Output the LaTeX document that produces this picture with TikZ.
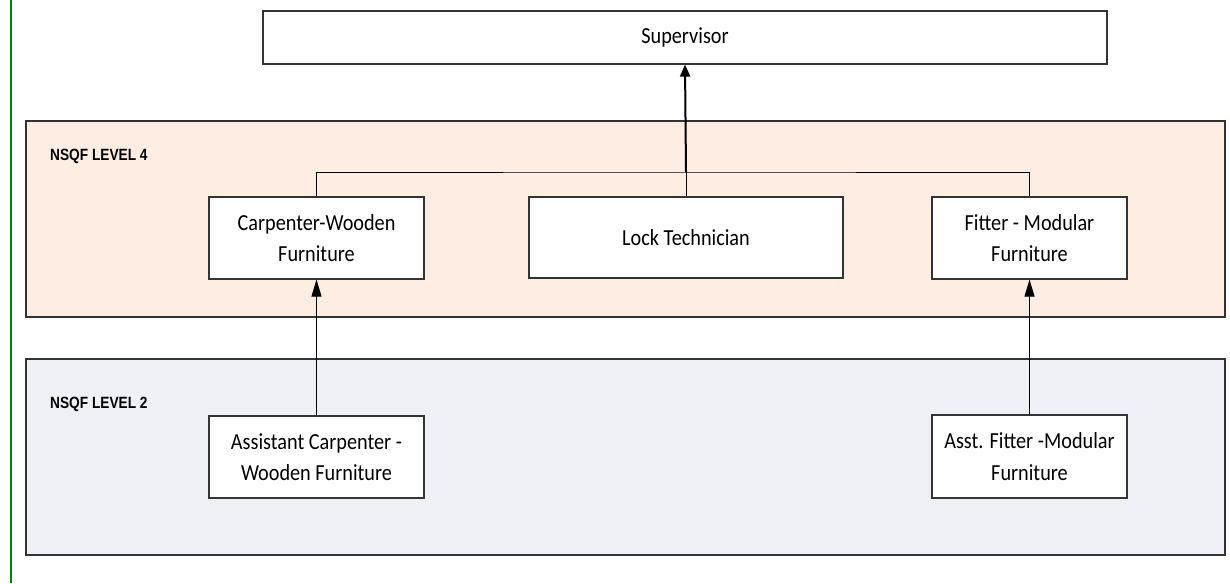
\documentclass[tikz,border=0pt]{standalone}
\usepackage{fontspec}
\setmainfont{Carlito}[FakeStretch=0.88]
\newfontfamily\labfont{Liberation Sans}[FakeStretch=0.84]
\usetikzlibrary{arrows.meta,shadows}
\definecolor{peach}{HTML}{FDEDE3}
\definecolor{bluegray}{HTML}{EEF0F5}
\definecolor{framegreen}{HTML}{008000}
\tikzset{
  band/.style={draw=black!80, line width=1.1pt},
  rolebox/.style={draw=black!80, line width=1.1pt, fill=white, align=center,
    inner sep=0pt, font=\fontsize{23}{31.5}\selectfont,
    drop shadow={shadow xshift=1.2pt, shadow yshift=1.2pt, fill=black!30, opacity=1}},
  bandlabel/.style={anchor=base west, inner sep=0pt, font=\labfont\bfseries\fontsize{16.3}{18}\selectfont},
  link/.style={draw=black, line width=1pt},
  uparrow/.style={draw=black, line width=1pt, -{Triangle[length=17pt,width=10pt]}},
  mainarrow/.style={draw=black, line width=2pt, -{Triangle[length=12pt,width=10pt]}}
}
\begin{document}
\begin{tikzpicture}[x=1pt,y=-1pt]
\useasboundingbox (0,0) rectangle (1230,583);
\fill[white] (0,0) rectangle (1230,583);
\draw[framegreen, line width=2pt] (11,0) -- (11,583);
% bands
\draw[band, fill=peach] (26,121) rectangle (1225,317);
\draw[band, fill=bluegray] (26,359) rectangle (1225,555);
\node[bandlabel] (l4) at (50,160) {NSQF LEVEL 4};
\node[bandlabel] (l2) at (50,408) {NSQF LEVEL 2};
% boxes
\node[rolebox, minimum width=844pt, minimum height=53pt] (sup) at (685,37.5) {Supervisor};
\node[rolebox, minimum width=215pt, minimum height=82pt] (carp) at (316.5,238) {Carpenter-Wooden\\Furniture};
\node[rolebox, minimum width=314pt, minimum height=81pt] (lock) at (686,237.5) {Lock Technician};
\node[rolebox, minimum width=195pt, minimum height=82pt] (fit) at (1029.5,238) {Fitter - Modular\\Furniture};
\node[rolebox, minimum width=215pt, minimum height=82pt] (acarp) at (316.5,457) {Assistant Carpenter -\\Wooden Furniture};
\node[rolebox, minimum width=195pt, minimum height=83pt] (afit) at (1029.5,456.5) {Asst. Fitter -Modular\\Furniture};
% connectors
\coordinate (j) at (lock.north |- 0,172);
\draw[link] (carp.north) |- (j) -| (fit.north);
\draw[link] (lock.north) -- (j);
\draw[mainarrow] (j) -- (sup.south);
\draw[uparrow] (acarp.north) -- (carp.south);
\draw[uparrow] (afit.north) -- (fit.south);
\end{tikzpicture}
\end{document}
